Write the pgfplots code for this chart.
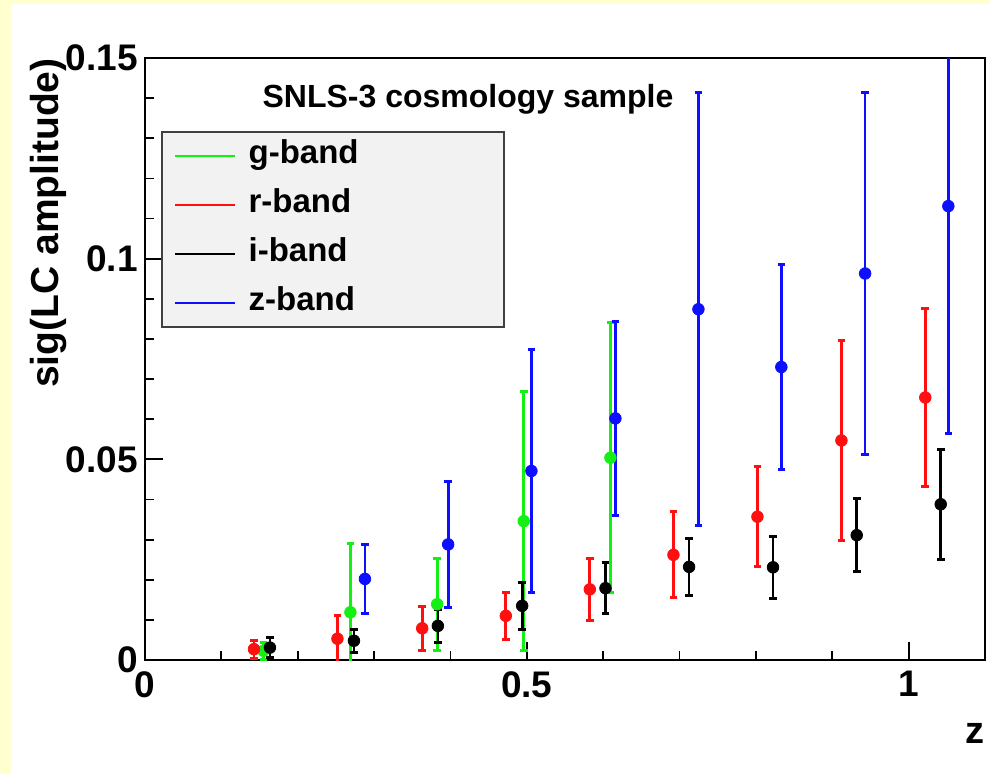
\documentclass[border=0pt]{standalone}
\usepackage{fontspec}
\setmainfont{Liberation Sans}
\usepackage{pgfplots}
\usepackage{pgfplotstable}
\pgfplotsset{compat=1.18}

\definecolor{rootyellow}{RGB}{255,255,208}
\definecolor{cg}{RGB}{20,240,20}
\definecolor{cr}{RGB}{255,15,15}
\definecolor{ci}{RGB}{0,0,0}
\definecolor{cz}{RGB}{15,15,255}

% z, value, error
\pgfplotstableread{
z      y       e
0.155  0.0023  0.0021
0.269  0.0119  0.0172
0.3826 0.0139  0.0115
0.496  0.0346  0.0322
0.6095 0.0504  0.0336
}\gband
\pgfplotstableread{
z      y       e
0.1427 0.0027  0.0022
0.252  0.0053  0.0059
0.363  0.0079  0.0055
0.4725 0.0110  0.0058
0.5825 0.0176  0.0077
0.692  0.0262  0.0107
0.802  0.0357  0.0124
0.912  0.0547  0.0250
1.0218 0.0654  0.0222
}\rband
\pgfplotstableread{
z      y       e
0.1636 0.0031  0.0025
0.2736 0.0048  0.0029
0.3835 0.0085  0.0041
0.4939 0.0135  0.0059
0.603  0.0179  0.0064
0.7125 0.0232  0.0072
0.8224 0.0231  0.0077
0.932  0.0311  0.0091
1.042  0.0388  0.0137
}\iband
\pgfplotstableread{
z      y       e
0.288  0.0202  0.0085
0.397  0.0288  0.0158
0.506  0.0471  0.0302
0.616  0.0602  0.0242
0.7247 0.0874  0.0540
0.8333 0.0730  0.0255
0.943  0.0963  0.0450
1.052  0.1131  0.0567
}\zband

\pgfplotsset{
  band/.style={only marks, color=#1, mark=*, mark size=2.9bp,
    mark options={draw=none, fill=#1},
    error bars/.cd, y dir=both, y explicit, error mark=|,
    error bar style={line width=1.35bp, #1},
    error mark options={line width=1.5bp, #1, mark size=1.9bp}},
}

\begin{document}
\begin{tikzpicture}
\fill[rootyellow] (0,0) rectangle (494.5bp,-387bp);
\fill[white] (5.5bp,-2bp) rectangle (494.5bp,-387bp);
\useasboundingbox (0,0) rectangle (494.5bp,-387bp);
\begin{axis}[
  at={(72.5bp,-330bp)}, anchor=south west,
  scale only axis, width=420bp, height=301bp,
  xmin=0, xmax=1.1, ymin=0, ymax=0.15,
  xtick={0,0.5,1}, xticklabels={0,0.5,1},
  ytick={0,0.05,0.1,0.15}, yticklabels={0,0.05,0.1,0.15},
  scaled ticks=false,
  minor x tick num=4, minor y tick num=4,
  xtick pos=bottom, ytick pos=left,
  tick align=inside,
  major tick length=9bp, minor tick length=4.5bp,
  every tick/.style={black, line width=0.9bp},
  axis line style={line width=1bp, black},
  /pgf/number format/assume math mode=true,
  tick label style={font=\fontsize{18.5bp}{20bp}\selectfont\bfseries, inner sep=0pt},
  xticklabel style={yshift=-5.5bp},
  yticklabel style={xshift=-3.5bp},
  xlabel={z}, ylabel={sig(LC amplitude)},
  every axis x label/.style={at={(axis description cs:1,-0.1379)}, anchor=base east,
    inner sep=0pt, font=\fontsize{19bp}{21bp}\selectfont\bfseries},
  every axis y label/.style={at={(axis description cs:-0.1024,1)}, rotate=90,
    anchor=base east, inner sep=0pt, font=\fontsize{19.5bp}{21bp}\selectfont\bfseries},
  legend style={at={(axis description cs:0.019,0.8787)}, anchor=north west,
    draw=black!75, line width=0.9bp, fill=black!5,
    inner xsep=6bp, inner ysep=3.5bp, row sep=7.5bp, column sep=6bp,
    font=\fontsize{16.5bp}{18bp}\selectfont\bfseries,
    nodes={inner sep=0pt, text height=12.5bp, text depth=4.5bp}},
  legend cell align=left,
  legend image code/.code={\draw[#1, line width=1.4bp] (0bp,0bp) -- (30bp,0bp);},
]
\addplot[band=cg] table[x=z, y=y, y error=e] {\gband};
\addlegendentry{\makebox[121.5bp][l]{g-band}}
\addplot[band=cr] table[x=z, y=y, y error=e] {\rband};
\addlegendentry{\makebox[121.5bp][l]{r-band}}
\addplot[band=ci] table[x=z, y=y, y error=e] {\iband};
\addlegendentry{\makebox[121.5bp][l]{i-band}}
\addplot[band=cz] table[x=z, y=y, y error=e] {\zband};
\addlegendentry{\makebox[121.5bp][l]{z-band}}
\node[anchor=base, inner sep=0pt, font=\fontsize{16bp}{18bp}\selectfont\bfseries]
  at (axis description cs:0.3845,0.917) {SNLS-3 cosmology sample};
\end{axis}
\end{tikzpicture}
\end{document}
